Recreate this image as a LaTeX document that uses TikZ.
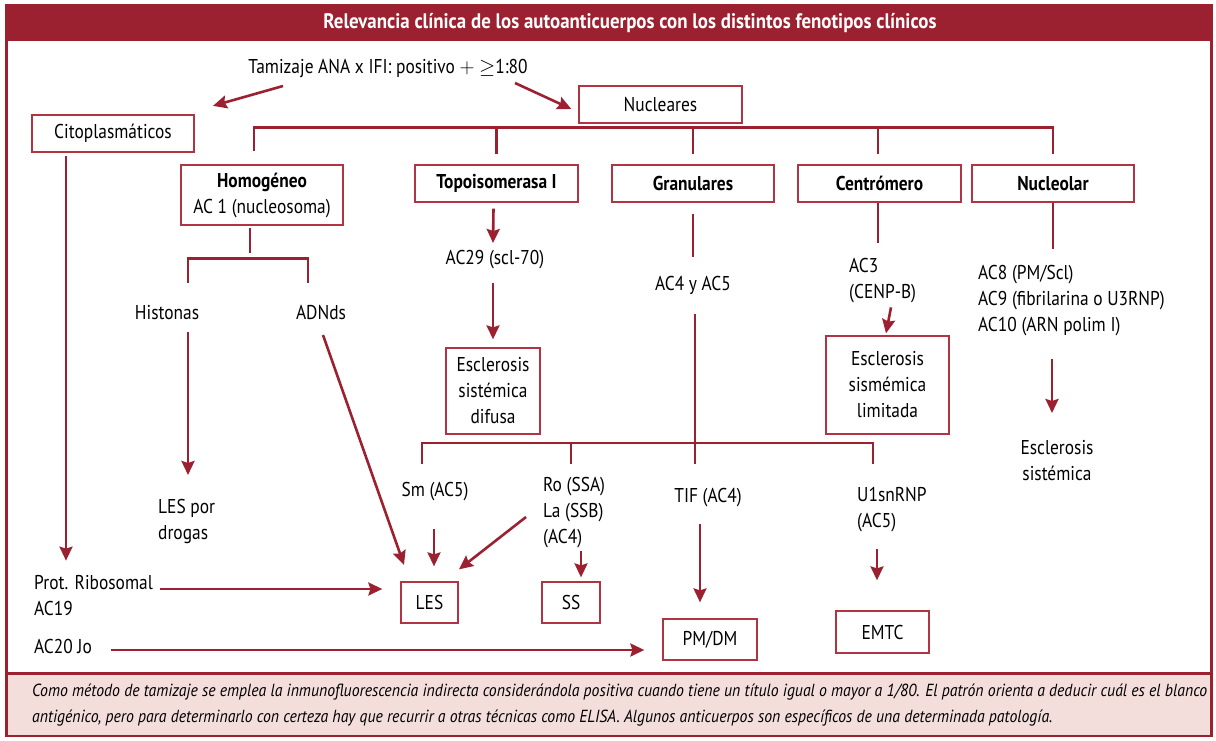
\documentclass[tikz,border=0pt]{standalone}
\usepackage{fontspec}
\setmainfont{PT Sans}[FakeStretch=0.87]
\newfontfamily\titlefont{PT Sans}[FakeStretch=0.9]
\usetikzlibrary{arrows.meta}
\definecolor{dred}{RGB}{155,33,48}
\definecolor{bred}{RGB}{178,52,66}
\definecolor{pinkbg}{RGB}{243,222,219}
\begin{document}
\begin{tikzpicture}[x=1pt,y=-1pt,
  every node/.style={font=\fontsize{20}{26}\selectfont},
  ln/.style={draw=dred,line width=2.6pt},
  arr/.style={ln,-{Stealth[length=14pt,width=13pt,inset=2pt]}},
  box/.style={draw=bred,line width=1.3pt,inner sep=0pt,align=center,fill=white},
  txt/.style={inner sep=0pt,align=center},
  ltxt/.style={inner sep=0pt,align=left,anchor=west}]
\useasboundingbox (0,0) rectangle (1216,740);
% frame
\fill[dred] (5,4) rectangle (1213,41);
\fill[pinkbg] (6,673) rectangle (1212,736);
\draw[dred,line width=2.5pt] (6.5,5) rectangle (1211.5,736);
\draw[dred,line width=3pt] (6,673) -- (1212,673);
\node[txt,text=white,font=\titlefont\bfseries\fontsize{21}{22}\selectfont] (title) at (630,23) {Relevancia clínica de los autoanticuerpos con los distintos fenotipos clínicos};
\node[ltxt,font=\titlefont\itshape\fontsize{17.5}{26}\selectfont] (cap) at (32,705) {Como método de tamizaje se emplea la inmunofluorescencia indirecta considerándola positiva cuando tiene un título igual o mayor a 1/80. El patrón orienta a deducir cuál es el blanco\\antigénico, pero para determinarlo con certeza hay que recurrir a otras técnicas como ELISA. Algunos anticuerpos son específicos de una determinada patología.};
% boxes
\node[box,minimum width=162pt,minimum height=37pt] (cito) at (113,133.5) {Citoplasmáticos};
\node[box,minimum width=163pt,minimum height=37pt] (nuc) at (660.5,104.5) {Nucleares};
\node[box,minimum width=162pt,minimum height=60pt] (homo) at (262,195) {\textbf{Homogéneo}\\AC 1 (nucleosoma)};
\node[box,minimum width=163pt,minimum height=37pt] (topo) at (496.5,183.5) {\textbf{Topoisomerasa I}};
\node[box,minimum width=162pt,minimum height=37pt] (gran) at (693,183.5) {\textbf{Granulares}};
\node[box,minimum width=163pt,minimum height=37pt] (cent) at (879.5,183.5) {\textbf{Centrómero}};
\node[box,minimum width=162pt,minimum height=37pt] (nucl) at (1053,183.5) {\textbf{Nucleolar}};
\node[box,minimum width=94pt,minimum height=86pt] (escd) at (493,391) {Esclerosis\\sistémica\\difusa};
\node[box,minimum width=123pt,minimum height=98pt] (escl) at (887.5,385) {Esclerosis\\sismémica\\limitada};
\node[box,minimum width=57pt,minimum height=41pt] (les) at (429.5,602.5) {LES};
\node[box,minimum width=58pt,minimum height=41pt] (ss) at (571,602.5) {SS};
\node[box,minimum width=94pt,minimum height=41pt] (pmdm) at (710,639.5) {PM/DM};
\node[box,minimum width=93pt,minimum height=42pt] (emtc) at (882.5,632) {EMTC};
% text nodes
\node[txt] (tam) at (388,68) {Tamizaje ANA x IFI: positivo $+$ $\geq$1:80};
\node[txt] (ac29) at (495,260) {AC29 (scl-70)};
\node[txt] (ac45) at (693,285) {AC4 y AC5};
\node[ltxt] (ac3) at (849,281) {AC3\\(CENP-B)};
\node[ltxt] (ac8) at (978,301) {AC8 (PM/Scl)\\AC9 (fibrilarina o U3RNP)\\AC10 (ARN polim I)};
\node[txt] (hist) at (167,313) {Histonas};
\node[txt] (adn) at (321,313) {ADNds};
\node[ltxt] (lesdrog) at (158,521) {LES por\\drogas};
\node[txt] (sm) at (435,492) {Sm (AC5)};
\node[ltxt] (ro) at (543,513) {Ro (SSA)\\La (SSB)\\(AC4)};
\node[txt] (tif) at (708,498) {TIF (AC4)};
\node[ltxt] (u1) at (857,510) {U1snRNP\\(AC5)};
\node[txt] (escs) at (1057,461) {Esclerosis\\sistémica};
\node[ltxt] (prot) at (34,596) {Prot. Ribosomal\\AC19};
\node[ltxt] (ac20) at (34,646) {AC20 Jo};
\coordinate (bus2) at (695,443);
\coordinate (b2l) at (422,443);
\coordinate (b2r) at (873,443);
% connectors
\draw[arr] ([shift={(-105,18)}]tam.center) -- ([shift={(100,-8.5)}]cito.north);
\draw[arr] ([shift={(127,15)}]tam.center) -- ([shift={(-7,4.5)}]nuc.west);
\draw[ln] ([shift={(-8,-13)}]homo.north) |- ([shift={(0,-37)}]nucl.north) -- ([shift={(0,-10)}]nucl.north);
\draw[ln] ([shift={(0,-37)}]topo.north) -- ([shift={(0,-10)}]topo.north);
\draw[ln] ([shift={(0,-37)}]gran.north) -- ([shift={(0,-10)}]gran.north);
\draw[ln] ([shift={(-1.5,-37)}]cent.north) -- ([shift={(-1.5,-10)}]cent.north);
\draw[ln] ([shift={(-12,2)}]homo.south) -- ([shift={(-12,27)}]homo.south);
\draw[ln] ([shift={(-74,57)}]homo.south) |- ([shift={(46,33)}]homo.south) -- ([shift={(46,57)}]homo.south);
\draw[arr] ([shift={(-3,6)}]topo.south) -- ([shift={(-2,-17)}]ac29.center);
\draw[arr] ([shift={(-2,23)}]ac29.center) -- ([shift={(0,-8)}]escd.north);
\draw[ln] ([shift={(0,11)}]gran.south) -- ([shift={(0,-28)}]ac45.center);
\draw[ln] ([shift={(2,29)}]ac45.center) -- (bus2);
\draw[ln] ([shift={(0,21)}]b2l) -- (b2l) -- (b2r) -- ([shift={(0,21)}]b2r);
\draw[ln] (ss |- bus2) -- ([shift={(0,21)}]ss |- bus2);
\draw[ln] (bus2) -- ([shift={(0,21)}]bus2);
\draw[ln] ([shift={(-1.5,0)}]cent.south) -- ([shift={(-1.5,40)}]cent.south);
\draw[arr] ([shift={(3.5,-28)}]escl.north) -- ([shift={(-1.5,-2)}]escl.north);
\draw[ln] (nucl.south) -- ([shift={(0,46)}]nucl.south);
\draw[arr] ([shift={(-5,-102)}]escs.center) -- ([shift={(-5,-48)}]escs.center);
\draw[arr] ([shift={(-47,3)}]cito.south) -- ([shift={(-47,408)}]cito.south);
\draw[arr] ([shift={(21,19)}]hist.center) -- ([shift={(21,162)}]hist.center);
\draw[arr] ([shift={(2,22)}]adn.center) -- ([shift={(-25.5,-16.5)}]les.north);
\draw[arr] ([shift={(-1,37)}]sm.center) -- ([shift={(4.5,-15)}]les.north);
\draw[arr] ([shift={(-17,4)}]ro.west) -- ([shift={(29.5,-12)}]les.north);
\draw[arr] ([shift={(10,-30)}]ss.north) -- ([shift={(10,-4)}]ss.north);
\draw[arr] ([shift={(-10,-94)}]pmdm.north) -- ([shift={(-10,-16)}]pmdm.north);
\draw[arr] ([shift={(-5.5,-61)}]emtc.north) -- ([shift={(-5.5,-30)}]emtc.north);
\draw[arr] ([shift={(-240,-13.5)}]les.west) -- ([shift={(-18,-13.5)}]les.west);
\draw[arr] ([shift={(-551,10.5)}]pmdm.west) -- ([shift={(-18,10.5)}]pmdm.west);
\end{tikzpicture}
\end{document}
